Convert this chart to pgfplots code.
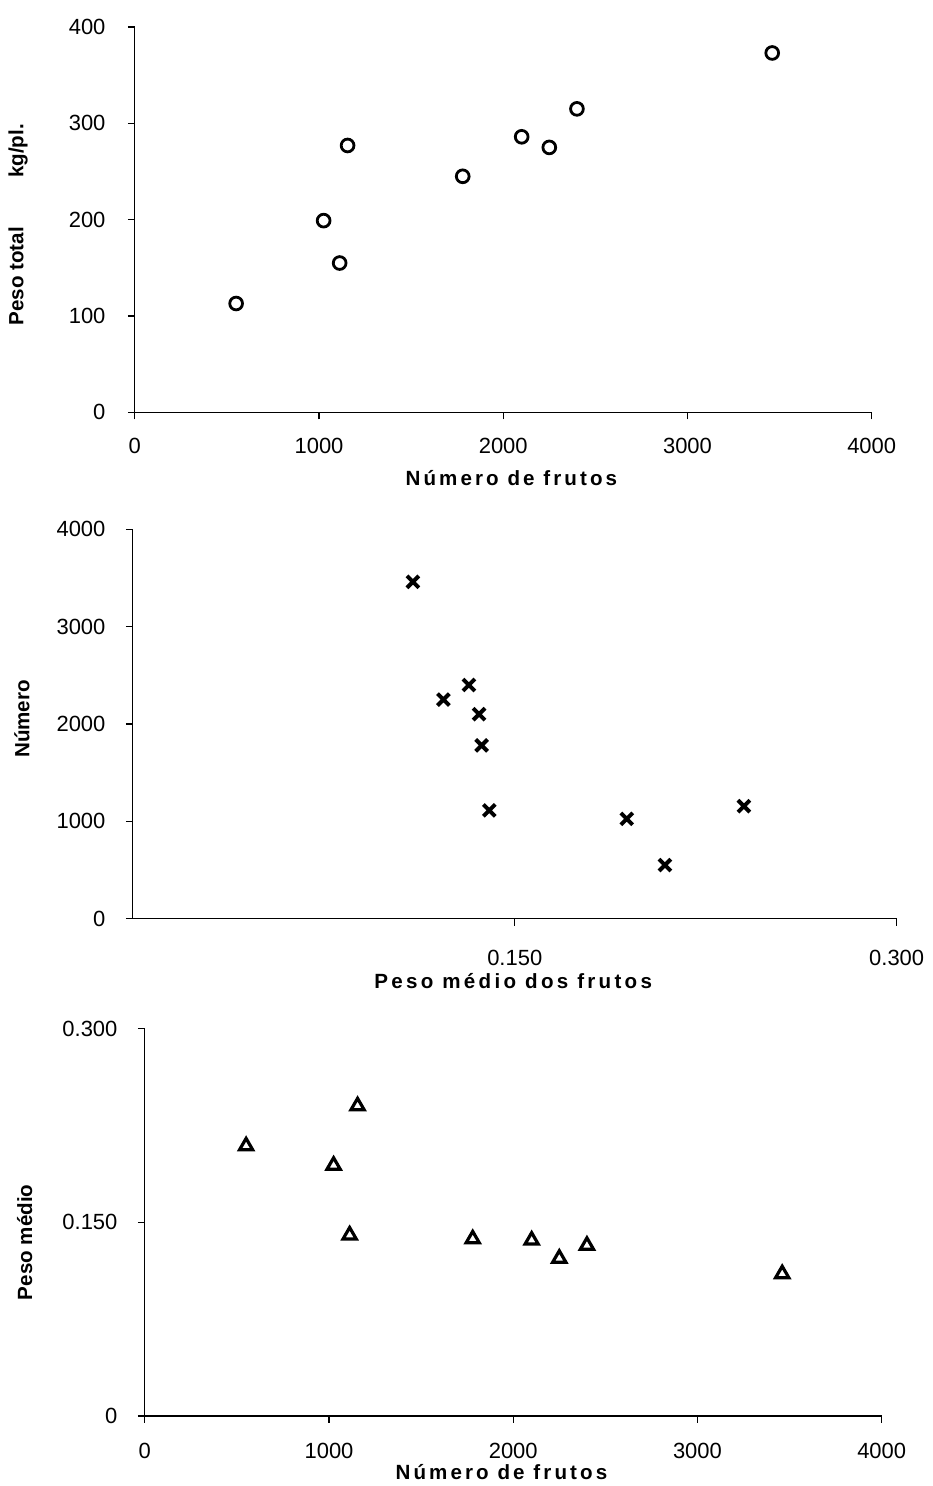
\documentclass[border=0pt]{standalone}
\usepackage{fontspec}
\setmainfont{Liberation Sans}
\usepackage{pgfplots}
\pgfplotsset{compat=1.18}
\pgfplotsset{
  myaxis/.style={
    scale only axis,
    axis lines=left,
    axis line style={-, black, line width=0.6pt},
    tick align=outside,
    major tick length=3.5pt,
    tick style={black, line width=0.6pt},
    enlargelimits=false,
    clip=false,
    /pgf/number format/assume math mode=true,
    /pgf/number format/1000 sep={},
    tick label style={font=\fontsize{11}{13}\selectfont},
    label style={font=\fontsize{10.3}{12}\selectfont\bfseries},
    xticklabel style={anchor=center, inner sep=0pt},
    yticklabel style={anchor=east, inner sep=0pt},
    ylabel style={anchor=center, rotate=0},
    xlabel style={anchor=center},
  }
}
\begin{document}
\begin{tikzpicture}
\path (0,0) rectangle (467pt,743pt);
% Panel 1
\begin{axis}[myaxis,
  at={(67.5pt,536.5pt)}, anchor=south west,
  width=369pt, height=193pt,
  xmin=0, xmax=4000, ymin=0, ymax=400,
  xtick={0,1000,2000,3000,4000},
  ytick={0,100,200,300,400},
  xticklabel style={yshift=-13.5pt},
  yticklabel style={xshift=-11pt},
  xlabel={\addfontfeature{LetterSpace=15}Número de frutos},
  xlabel style={at={(axis description cs:0.511,-0.171)}},
  ylabel={Peso total\hspace{2.4em}kg/pl.},
  ylabel style={at={(axis description cs:-0.1585,0.487)}},
]
\addplot[only marks, mark=o, mark size=3.2pt, line width=1.4pt, black] coordinates {
(550,113) (1025,199) (1112,155) (1155,277) (1780,245) (2100,286) (2250,275) (2400,315) (3460,373)
};
\end{axis}
% Panel 2
\begin{axis}[myaxis,
  at={(66.5pt,283pt)}, anchor=south west,
  width=382.5pt, height=195pt,
  xmin=0, xmax=0.3, ymin=0, ymax=4000,
  xtick={0.15,0.3}, xticklabels={0.150,0.300},
  ytick={0,1000,2000,3000,4000},
  xticklabel style={yshift=-16pt},
  yticklabel style={xshift=-10pt},
  xlabel={\addfontfeature{LetterSpace=16}Peso médio dos frutos},
  xlabel style={at={(axis description cs:0.498,-0.159)}},
  ylabel={Número},
  ylabel style={at={(axis description cs:-0.145,0.513)}},
]
\addplot[only marks, mark=x, mark size=4.2pt, line width=2pt, black] coordinates {
(0.110,3460) (0.122,2250) (0.132,2400) (0.136,2100) (0.137,1780) (0.140,1112) (0.194,1025) (0.209,550) (0.240,1155)
};
\end{axis}
% Panel 3
\begin{axis}[myaxis,
  at={(72.5pt,34pt)}, anchor=south west,
  width=369pt, height=194pt,
  xmin=0, xmax=4000, ymin=0, ymax=0.3,
  xtick={0,1000,2000,3000,4000},
  ytick={0,0.15,0.3}, yticklabels={0,0.150,0.300},
  xticklabel style={yshift=-14pt},
  yticklabel style={xshift=-10pt},
  xlabel={\addfontfeature{LetterSpace=15}Número de frutos},
  xlabel style={at={(axis description cs:0.484,-0.144)}},
  ylabel={Peso médio},
  ylabel style={at={(axis description cs:-0.163,0.448)}},
]
\addplot[only marks, mark=triangle, mark size=3.8pt, line width=1.6pt, black] coordinates {
(550,0.209) (1025,0.194) (1112,0.140) (1155,0.240) (1780,0.137) (2100,0.136) (2250,0.122) (2400,0.132) (3460,0.110)
};
\end{axis}
\end{tikzpicture}
\end{document}
